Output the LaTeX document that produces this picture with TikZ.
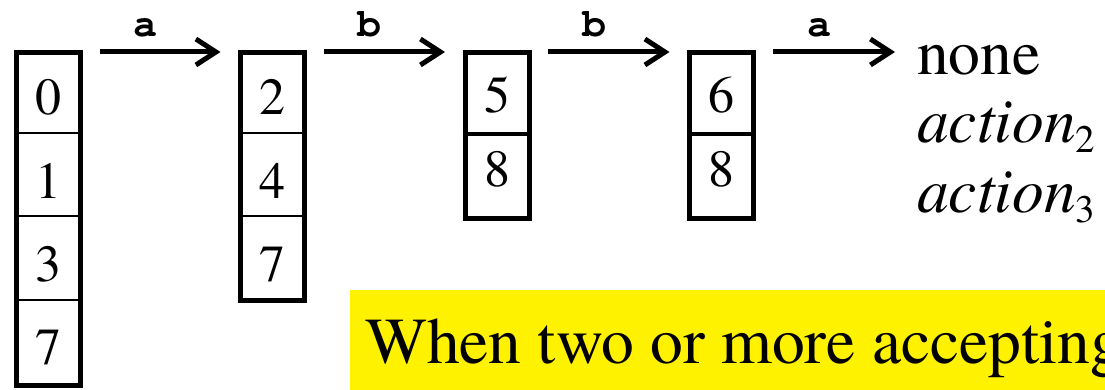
\documentclass[tikz,border=0pt]{standalone}
\usepackage{fontspec}
\setmainfont{TeX Gyre Termes}
\newfontfamily\labfont{TeX Gyre Cursor}
\usetikzlibrary{arrows.meta}
\begin{document}
\begin{tikzpicture}[x=1pt,y=-1pt,
  boxframe/.style={draw, line width=5pt, minimum width=64pt, inner sep=0pt, anchor=north},
  digit/.style={font=\fontsize{52}{52}\selectfont, anchor=base, inner sep=0pt},
  thindiv/.style={line width=2pt},
  thickdiv/.style={line width=4.5pt},
  arr/.style={line width=5pt, -{Straight Barb[length=20pt,width=26pt]}},
  lbl/.style={font=\labfont\bfseries\fontsize{40}{40}\selectfont, anchor=base, yshift=15pt, pos=0.38, inner sep=0pt},
  sidetext/.style={anchor=base west, inner sep=0pt, font=\fontsize{63.5}{63.5}\selectfont}]
\clip (0,0) rectangle (1105,390);
% boxes
\node[boxframe, minimum height=332pt] (b1) at (48.5,50.5) {};
\node[boxframe, minimum height=247pt] (b2) at (272.5,50.5) {};
\node[boxframe, minimum height=165pt] (b3) at (497,50.5) {};
\node[boxframe, minimum height=165pt] (b4) at (721.5,50.5) {};
% dividers
\draw[thindiv] (b1.west |- 0,133) -- (b1.east |- 0,133);
\draw[thindiv] (b1.west |- 0,216) -- (b1.east |- 0,216);
\draw[thindiv] (b1.west |- 0,300) -- (b1.east |- 0,300);
\draw[thindiv] (b2.west |- 0,133) -- (b2.east |- 0,133);
\draw[thindiv] (b2.west |- 0,216) -- (b2.east |- 0,216);
\draw[thickdiv] (b3.west |- 0,134) -- (b3.east |- 0,134);
\draw[thickdiv] (b4.west |- 0,134) -- (b4.east |- 0,134);
% digits
\node[digit] (d10) at (48.5,115) {0};
\node[digit] (d11) at (48.5,198) {1};
\node[digit] (d12) at (48.5,281) {3};
\node[digit] (d13) at (48.5,364) {7};
\node[digit] (d20) at (272.5,115) {2};
\node[digit] (d21) at (272.5,198) {4};
\node[digit] (d22) at (272.5,281) {7};
\node[digit] (d30) at (497,113) {5};
\node[digit] (d31) at (497,186) {8};
\node[digit] (d40) at (721.5,113) {6};
\node[digit] (d41) at (721.5,186) {8};
% right texts
\node[sidetext] (none) at (917,75) {none};
\node[sidetext] (act2) at (917,143) {{\itshape action}\raisebox{-10pt}{\fontsize{39}{39}\selectfont 2}};
\node[sidetext] (act3) at (917,212) {{\itshape action}\raisebox{-10pt}{\fontsize{39}{39}\selectfont 3}};
% arrows
\draw[arr] ([xshift=16.5pt,yshift=-1.5pt]b1.north east) -- node[lbl] {a} ([xshift=-17.5pt,yshift=-1.5pt]b2.north west);
\draw[arr] ([xshift=16.5pt,yshift=-1.5pt]b2.north east) -- node[lbl] {b} ([xshift=-17.5pt,yshift=-1.5pt]b3.north west);
\draw[arr] ([xshift=16.5pt,yshift=-1.5pt]b3.north east) -- node[lbl] {b} ([xshift=-17.5pt,yshift=-1.5pt]b4.north west);
\draw[arr] ([xshift=16.5pt,yshift=-1.5pt]b4.north east) -- node[lbl] {a} ([xshift=-22pt,yshift=23pt]none.base west);
% banner
\fill[yellow] (350,290) rectangle (1105,390);
\node[anchor=base west, inner sep=0pt, font=\fontsize{65.5}{65.5}\selectfont] (banner) at (365,363) {When two or more accepting};
\end{tikzpicture}
\end{document}
